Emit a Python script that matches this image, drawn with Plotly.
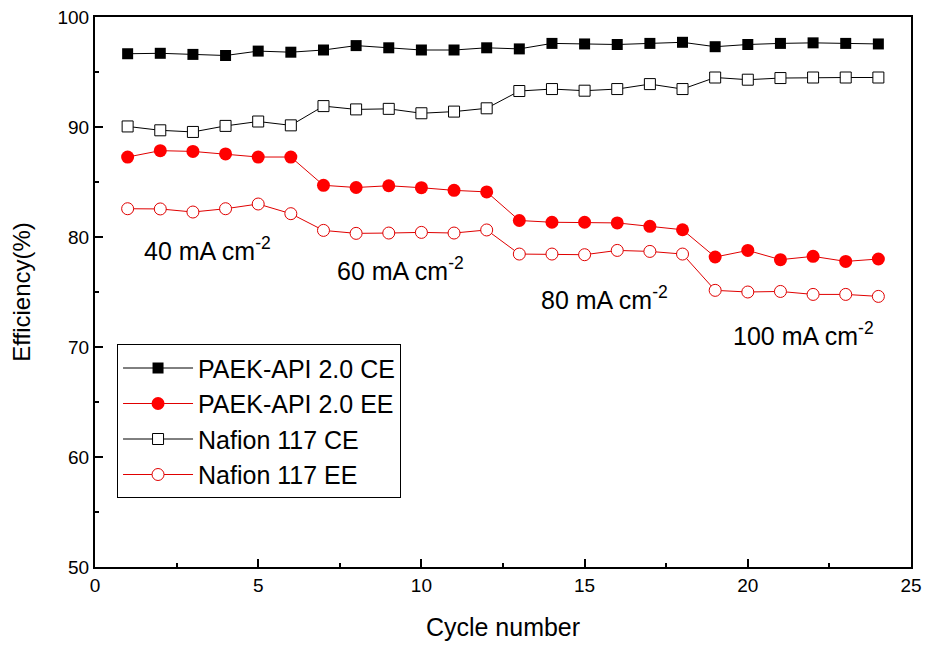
import plotly.graph_objects as go

cycles = list(range(1, 25))
paek_ce = [96.66, 96.7, 96.6, 96.5, 96.9, 96.8, 97.0, 97.4, 97.2, 97.0, 97.0, 97.2,
           97.1, 97.6, 97.55, 97.5, 97.6, 97.7, 97.3, 97.5, 97.6, 97.65, 97.6, 97.55]
paek_ee = [87.27, 87.85, 87.78, 87.55, 87.27, 87.27, 84.7, 84.5, 84.66, 84.48, 84.24, 84.1,
           81.5, 81.34, 81.34, 81.28, 80.97, 80.66, 78.18, 78.78, 77.94, 78.24, 77.78, 78.0]
nafion_ce = [90.05, 89.7, 89.55, 90.1, 90.5, 90.15, 91.9, 91.6, 91.65, 91.25, 91.4, 91.7,
             93.27, 93.45, 93.3, 93.45, 93.9, 93.45, 94.5, 94.3, 94.45, 94.5, 94.5, 94.5]
nafion_ee = [82.57, 82.55, 82.27, 82.57, 83.0, 82.12, 80.6, 80.33, 80.36, 80.42, 80.36, 80.64,
             78.45, 78.45, 78.39, 78.78, 78.69, 78.45, 75.15, 75.0, 75.05, 74.78, 74.78, 74.6]

labels = ["40 mA cm<sup>-2</sup>", "60 mA cm<sup>-2</sup>", "80 mA cm<sup>-2</sup>", "100 mA cm<sup>-2</sup>"]
label_x = [3.44, 9.37, 15.62, 21.72]
label_y = [78.95, 77.1, 74.5, 71.2]

FONT = "Liberation Sans, Arial, sans-serif"
fig = go.Figure()
fig.add_trace(go.Scatter(x=cycles, y=paek_ce, name="PAEK-API 2.0 CE", mode="lines+markers",
                         line=dict(color="black", width=1),
                         marker=dict(symbol="square", size=11, color="black")))
fig.add_trace(go.Scatter(x=cycles, y=paek_ee, name="PAEK-API 2.0 EE", mode="lines+markers",
                         line=dict(color="#e00000", width=1),
                         marker=dict(symbol="circle", size=13, color="red")))
fig.add_trace(go.Scatter(x=cycles, y=nafion_ce, name="Nafion 117 CE", mode="lines+markers",
                         line=dict(color="black", width=1),
                         marker=dict(symbol="square", size=11, color="white",
                                     line=dict(color="black", width=1))))
fig.add_trace(go.Scatter(x=cycles, y=nafion_ee, name="Nafion 117 EE", mode="lines+markers",
                         line=dict(color="#e00000", width=1),
                         marker=dict(symbol="circle", size=12, color="white",
                                     line=dict(color="#e00000", width=1))))

for t, x, y in zip(labels, label_x, label_y):
    fig.add_annotation(x=x, y=y, text=t, showarrow=False, xref="x", yref="y",
                       font=dict(size=25, color="black", family=FONT))

fig.update_layout(
    width=930, height=646,
    margin=dict(l=87, r=27, t=9, b=87),
    paper_bgcolor="white", plot_bgcolor="white",
    font=dict(family=FONT, color="black"),
    showlegend=True,
    legend=dict(x=0.027, y=0.405, xanchor="left", yanchor="top",
                bordercolor="black", borderwidth=1, bgcolor="white",
                font=dict(size=25, family=FONT), itemwidth=70,
                tracegroupgap=0),
    xaxis=dict(range=[0, 25], dtick=5, tick0=0, showgrid=False, zeroline=False,
               showline=True, linecolor="black", linewidth=2, mirror=True,
               ticks="inside", ticklen=8, tickwidth=1.5, tickcolor="black",
               minor=dict(ticks="inside", ticklen=4, dtick=2.5, tickcolor="black", tickwidth=1.5),
               tickfont=dict(size=19, family=FONT), automargin=False,
               ticklabeloverflow="allow",
               title=dict(text="Cycle number", font=dict(size=25, family=FONT), standoff=24)),
    yaxis=dict(range=[50, 100], dtick=10, tick0=50, showgrid=False, zeroline=False,
               showline=True, linecolor="black", linewidth=2, mirror=True,
               ticks="inside", ticklen=8, tickwidth=1.5, tickcolor="black",
               minor=dict(ticks="inside", ticklen=4, dtick=5, tickcolor="black", tickwidth=1.5),
               tickfont=dict(size=19, family=FONT), automargin=False,
               ticklabeloverflow="allow",
               title=dict(text="Efficiency(%)", font=dict(size=24, family=FONT), standoff=46)),
)

fig.write_html("out.html")
